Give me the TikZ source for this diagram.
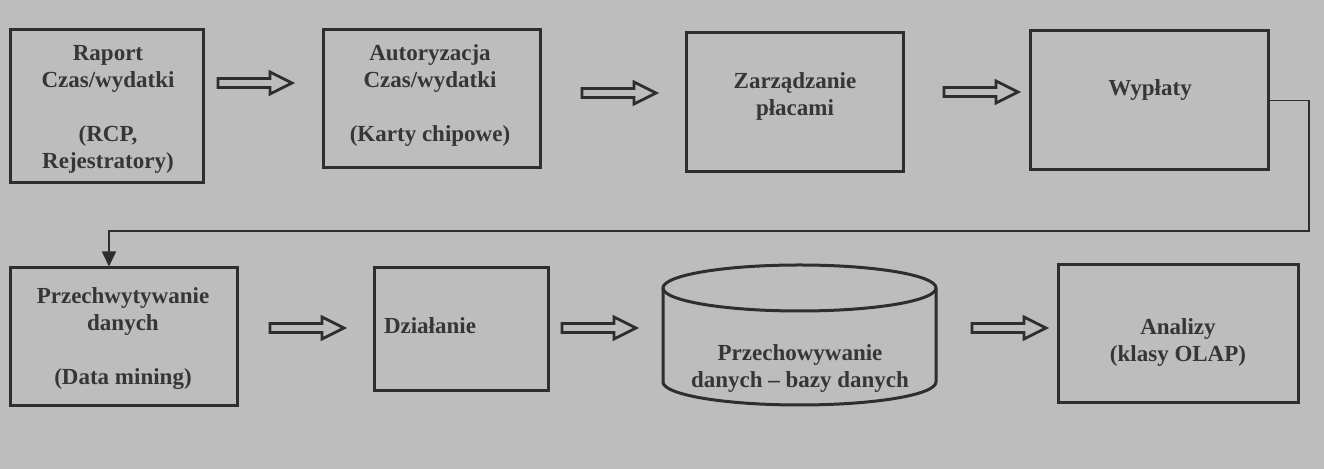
\documentclass[tikz,border=0pt]{standalone}
\usepackage{fontspec}
\setmainfont{Liberation Serif}
\usetikzlibrary{arrows.meta}
\definecolor{bg}{HTML}{BDBDBD}
\definecolor{ink}{HTML}{2E2E2E}
\definecolor{tink}{HTML}{363636}
\begin{document}
\begin{tikzpicture}[x=0.5pt,y=-0.5pt,
  box/.style={draw=ink,line width=1.5pt,inner sep=0pt},
  txt/.style={font=\bfseries\fontsize{11.5}{13.5}\selectfont,text=tink,align=center,inner sep=0pt},
  conn/.style={draw=ink,line width=0.75pt},
  pics/barrow/.style={code={\draw[draw=ink,line width=1.4pt,line join=miter]
     (0,-4.5) -- (52,-4.5) -- (52,-11) -- (74,0) -- (52,11) -- (52,4.5) -- (0,4.5) -- cycle;}}]
\fill[bg] (0,0) rectangle (1324,469);
\useasboundingbox (0,0) rectangle (1324,469);
% boxes
\node[box,minimum width=96.5pt,minimum height=76.5pt] (r) at (106.5,106.5) {};
\node[box,minimum width=108.5pt,minimum height=69pt] (a) at (431.5,99) {};
\node[box,minimum width=108.5pt,minimum height=69.5pt] (z) at (794.5,102.5) {};
\node[box,minimum width=119pt,minimum height=69.5pt] (w) at (1149,100.5) {};
\node[box,minimum width=113.5pt,minimum height=69pt] (p) at (123.5,337) {};
\node[box,minimum width=87pt,minimum height=61.5pt] (d) at (461,329.5) {};
\node[box,minimum width=120pt,minimum height=69pt] (o) at (1178,334) {};
% cylinder
\draw[draw=ink,line width=1.5pt] (799.5,288) ellipse [x radius=68.25pt, y radius=11.5pt];
\draw[draw=ink,line width=1.5pt] (663,288) -- (663,382) arc[start angle=180,end angle=360,x radius=68.25pt,y radius=11.5pt] -- (936,288);
% texts
\node[txt] (rt) at (108,109.5) {Raport\\Czas/wydatki\\[13.5pt](RCP,\\Rejestratory)};
\node[txt] (at) at (430,96) {Autoryzacja\\Czas/wydatki\\[13.5pt](Karty chipowe)};
\node[txt] (zt) at (795,96) {Zarządzanie\\płacami};
\node[txt] (wt) at (1150,90) {Wypłaty};
\node[txt] (pt) at (123,338.5) {Przechwytywanie\\danych\\[13.5pt](Data mining)};
\node[txt] (dt) at (430,326) {Działanie};
\node[txt] (db) at (800,368.5) {Przechowywanie\\danych -- bazy danych};
\node[txt] (ot) at (1178,343) {Analizy\\(klasy OLAP)};
% block arrows
\pic at (218,83) {barrow};
\pic at (582,93) {barrow};
\pic at (944,92) {barrow};
\pic at (270,328) {barrow};
\pic at (562,328) {barrow};
\pic at (972,328) {barrow};
% connector
\coordinate (cR) at (1309,231);
\coordinate (cL) at (109,231);
\draw[conn,-{Triangle[length=7.5pt,width=7pt]}] (w.east) -| (cR) -- (cL) -- (cL |- p.north);
\end{tikzpicture}
\end{document}
